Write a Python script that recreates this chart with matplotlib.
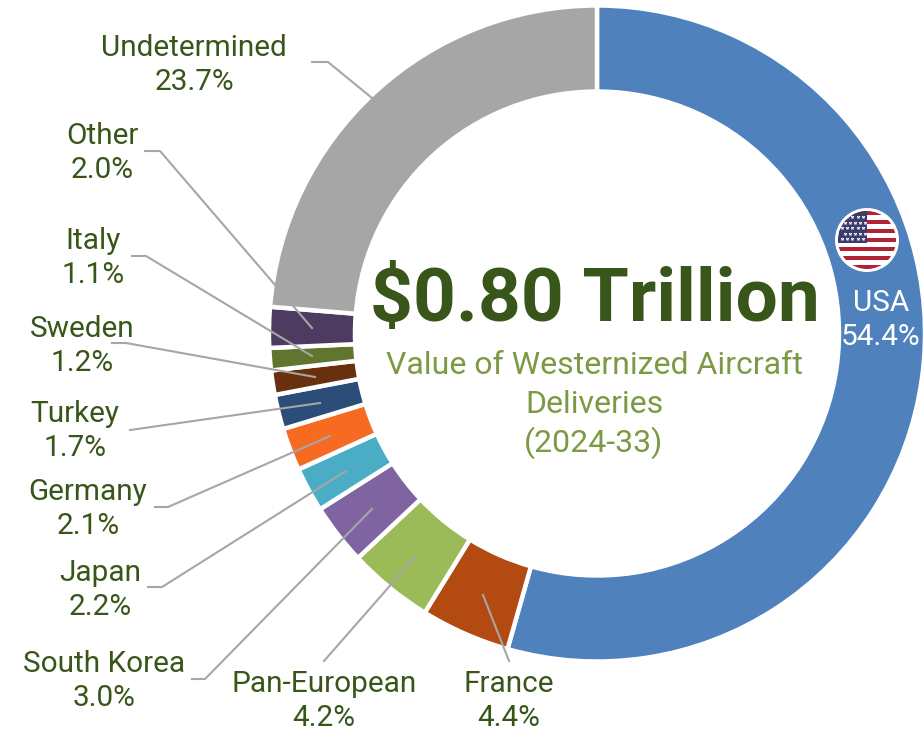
import matplotlib
matplotlib.use('Agg')
import matplotlib.pyplot as plt
from matplotlib.patches import Circle, Rectangle

plt.rcParams['font.family'] = ['Roboto', 'DejaVu Sans']

# Slice data, clockwise from the top
countries = ['USA', 'France', 'Pan-European', 'South Korea', 'Japan', 'Germany',
             'Turkey', 'Sweden', 'Italy', 'Other', 'Undetermined']
shares = [54.4, 4.4, 4.2, 3.0, 2.2, 2.1, 1.7, 1.2, 1.1, 2.0, 23.7]
colors = ['#4F81BD', '#B34A12', '#9BBB59', '#8064A2', '#4BACC6', '#F66A21',
          '#2B4D78', '#69300D', '#62752F', '#4D3B62', '#A6A6A6']

title = '$0.80 Trillion'
subtitle = ['Value of Westernized Aircraft', 'Deliveries', '(2024-33)']

dark_green = '#38561A'
light_green = '#7B9A43'
leader_grey = '#A6A6A6'

W, H = 923, 731
fig = plt.figure(figsize=(W / 100, H / 100), dpi=100)
ax = fig.add_axes([0, 0, 1, 1])


def Y(y):
    # layout below is measured from the top of the picture
    return H - y


cx, cy, r = 597, 333.5, 328
ax.pie(shares, colors=colors, startangle=90, counterclock=False,
       center=(cx, Y(cy)), radius=r, frame=True,
       wedgeprops=dict(width=86, edgecolor='white', linewidth=3.2))
ax.set_xlim(0, W)
ax.set_ylim(0, H)
ax.set_aspect('equal')
ax.axis('off')

# Label positions and leader lines, in pixels, same order as countries
label_pos = {
    'France': (509, 701), 'Pan-European': (324, 701), 'South Korea': (104, 681),
    'Japan': (100, 590), 'Germany': (88, 509), 'Turkey': (75, 431),
    'Sweden': (82, 346), 'Italy': (93, 258), 'Other': (102, 153),
    'Undetermined': (194, 65),
}
leaders = {
    'France': [(509, 661), (483, 595)],
    'Pan-European': [(324, 661), (416, 556)],
    'South Korea': [(192, 679), (205, 679), (372, 509)],
    'Japan': [(148, 587), (162, 587), (346, 471)],
    'Germany': [(155, 507), (168, 507), (330, 436)],
    'Turkey': [(130, 430), (320, 403)],
    'Sweden': [(112, 343), (126, 343), (315, 377)],
    'Italy': [(132, 256), (146, 256), (312, 356)],
    'Other': [(145, 151), (160, 151), (312, 328)],
    'Undetermined': [(312, 62), (328, 62), (372, 98)],
}

for name, share in zip(countries, shares):
    if name == 'USA':
        continue
    pts = leaders[name]
    ax.plot([p[0] for p in pts], [Y(p[1]) for p in pts], color=leader_grey, lw=1.5, zorder=3)
    x, y = label_pos[name]
    ax.text(x, Y(y), f'{name}\n{share:.1f}%', color=dark_green, fontsize=21.4,
            ha='center', va='center', linespacing=1.3, zorder=4)

ax.text(881, Y(320), f'USA\n{shares[0]:.1f}%', color='white', fontsize=21.4,
        ha='center', va='center', linespacing=1.3, zorder=4)

# Centre text
ax.text(595, Y(301), title, color=dark_green, fontsize=54, fontweight='bold',
        ha='center', va='center', zorder=4)
for line, ly in zip(subtitle, [365.5, 404.5, 443]):
    ax.text(594, Y(ly), line, color=light_green, fontsize=23,
            ha='center', va='center', zorder=4)

# Flag badge
fx, fy, fr = 867, 240, 32
ax.add_patch(Circle((fx, Y(fy)), fr, fc='white', ec='none', zorder=5))
clip = Circle((fx, Y(fy)), fr - 3, transform=ax.transData)
stripe_h = 2 * (fr - 3) / 13
for i in range(13):
    c = '#B22234' if i % 2 == 0 else 'white'
    s = Rectangle((fx - fr, Y(fy - fr + 3 + (i + 1) * stripe_h)), 2 * fr, stripe_h,
                  fc=c, ec='none', zorder=6)
    ax.add_patch(s)
    s.set_clip_path(clip)
canton = Rectangle((fx - fr, Y(fy + 3)), fr, fr + 3, fc='#3C3B6E', ec='none', zorder=7)
ax.add_patch(canton)
canton.set_clip_path(clip)
for row in range(5):
    sx = [fx - 25 + 5.2 * k + (2.6 if row % 2 else 0) for k in range(5)]
    sy = [Y(fy - 23 + 5.6 * row)] * 5
    stars = ax.scatter(sx, sy, marker='*', s=8, color='white', linewidths=0, zorder=8)
    stars.set_clip_path(clip)

fig.savefig('out.png', dpi=100)
